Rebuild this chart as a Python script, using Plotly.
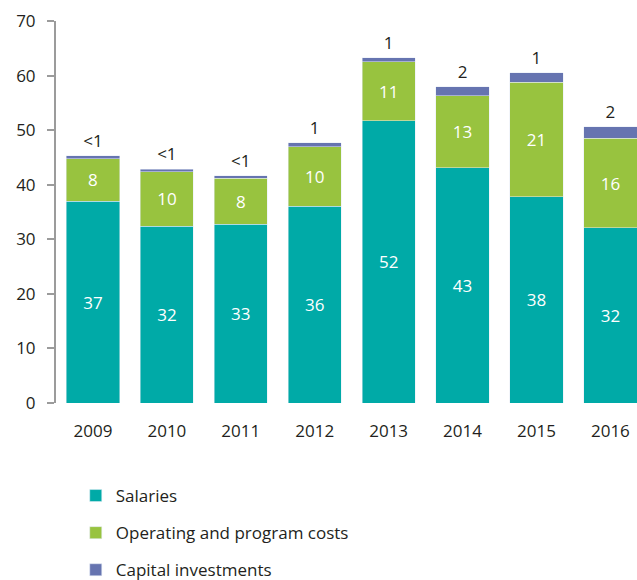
import plotly.graph_objects as go

years = ["2009", "2010", "2011", "2012", "2013", "2014", "2015", "2016"]
salaries = [37.0, 32.4, 32.8, 36.1, 51.7, 43.1, 37.8, 32.1]
operating = [7.8, 10.0, 8.4, 10.85, 10.8, 13.2, 20.95, 16.4]
capital = [0.5, 0.4, 0.4, 0.75, 0.8, 1.65, 1.75, 2.1]

salaries_labels = ["37", "32", "33", "36", "52", "43", "38", "32"]
operating_labels = ["8", "10", "8", "10", "11", "13", "21", "16"]
capital_labels = ["<1", "<1", "<1", "1", "1", "2", "1", "2"]

totals = [s + o + c for s, o, c in zip(salaries, operating, capital)]

FONT = "Open Sans"
TEAL = "#00AAA7"
GREEN = "#98C33F"
PURPLE = "#6674B0"
DARK = "#231F20"

fig = go.Figure()
fig.add_trace(go.Bar(
    x=years, y=salaries, name="Salaries", marker_color=TEAL,
    text=salaries_labels, textposition="inside", insidetextanchor="middle",
    textfont=dict(color="white", size=17, family=FONT), legendgroup="a",
    hoverinfo="skip",
))
fig.add_trace(go.Bar(
    x=years, y=operating, name="Operating and program costs", marker_color=GREEN,
    text=operating_labels, textposition="inside", insidetextanchor="middle",
    textfont=dict(color="white", size=17, family=FONT), legendgroup="b",
    hoverinfo="skip",
))
fig.add_trace(go.Bar(
    x=years, y=capital, name="Capital investments", marker_color=PURPLE,
    textposition="none", legendgroup="c", hoverinfo="skip",
))
fig.add_trace(go.Scatter(
    x=years, y=totals, mode="markers+text", text=capital_labels,
    marker=dict(size=6, opacity=0),
    textposition="top center", textfont=dict(color=DARK, size=17, family=FONT),
    showlegend=False, hoverinfo="skip", cliponaxis=False,
))

fig.update_layout(
    width=637, height=580,
    barmode="stack", bargap=0.28,
    plot_bgcolor="white", paper_bgcolor="white",
    margin=dict(l=56, r=0, t=21, b=177, autoexpand=False),
    font=dict(family=FONT, size=17, color=DARK),
    uniformtext=dict(mode="show", minsize=10),
    legend=dict(
        orientation="v", x=0.034, xanchor="left",
        y=-0.1963, yanchor="top",
        traceorder="grouped", tracegroupgap=12,
        font=dict(family=FONT, size=17, color=DARK),
    ),
    xaxis=dict(
        range=[-0.5, 7.36], showline=False, ticks="", showgrid=False,
        ticklabelstandoff=16, tickfont=dict(size=17, color=DARK),
    ),
    yaxis=dict(
        range=[0, 70], dtick=10, showgrid=False, zeroline=False,
        showline=True, linecolor="#9B9B9B", linewidth=2,
        ticks="outside", ticklen=7, tickcolor="#9B9B9B", tickwidth=2,
        tickfont=dict(size=17, color=DARK), ticklabelstandoff=8,
    ),
)

fig.write_html(
    "out.html",
    config={"displayModeBar": False},
    post_script="document.body.style.margin='0';document.body.style.overflow='hidden';",
)
